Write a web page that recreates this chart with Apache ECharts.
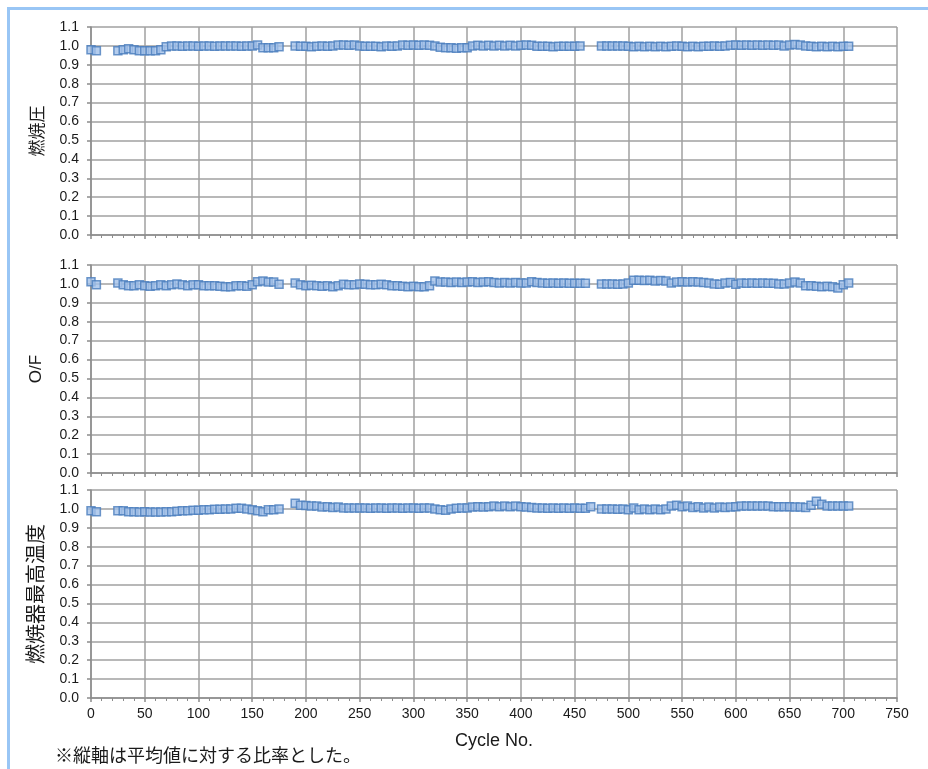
<!DOCTYPE html>
<html>
<head>
<meta charset="utf-8">
<script src="https://cdn.jsdelivr.net/npm/echarts@6/dist/echarts.min.js"></script>
<style>
  html, body { margin: 0; padding: 0; background: #fff; }
  #chart { width: 928px; height: 769px; }
</style>
</head>
<body>
<div id="chart"></div>
<script>
const cycles = [
  0, 5, 10, 15, 20, 25, 30, 35, 40, 45, 50, 55, 60, 65, 70, 75, 80, 85, 90, 95,
  100, 105, 110, 115, 120, 125, 130, 135, 140, 145, 150, 155, 160, 165, 170, 175, 180, 185, 190, 195,
  200, 205, 210, 215, 220, 225, 230, 235, 240, 245, 250, 255, 260, 265, 270, 275, 280, 285, 290, 295,
  300, 305, 310, 315, 320, 325, 330, 335, 340, 345, 350, 355, 360, 365, 370, 375, 380, 385, 390, 395,
  400, 405, 410, 415, 420, 425, 430, 435, 440, 445, 450, 455, 460, 465, 470, 475, 480, 485, 490, 495,
  500, 505, 510, 515, 520, 525, 530, 535, 540, 545, 550, 555, 560, 565, 570, 575, 580, 585, 590, 595,
  600, 605, 610, 615, 620, 625, 630, 635, 640, 645, 650, 655, 660, 665, 670, 675, 680, 685, 690, 695,
  700, 705
];

// 燃焼圧
const pressure = [
  0.980, 0.975, null, null, null, 0.975, 0.980, 0.985, 0.980, 0.975,
  0.975, 0.975, 0.975, 0.980, 0.995, 1.000, 1.000, 0.998, 1.000, 1.000,
  0.998, 1.000, 1.000, 0.998, 1.000, 1.000, 1.000, 1.000, 0.998, 1.000,
  1.000, 1.005, 0.990, 0.990, 0.990, 0.995, null, null, 1.000, 0.998,
  0.998, 0.995, 0.998, 1.000, 0.998, 1.000, 1.005, 1.005, 1.003, 1.005,
  1.000, 0.998, 0.998, 0.998, 0.995, 1.000, 0.998, 1.000, 1.005, 1.003,
  1.005, 1.003, 1.005, 1.003, 1.000, 0.993, 0.990, 0.990, 0.988, 0.990,
  0.990, 1.000, 1.003, 1.000, 1.003, 1.000, 1.003, 1.000, 1.003, 1.000,
  1.003, 1.005, 1.003, 0.998, 0.998, 0.998, 0.995, 0.998, 0.998, 0.998,
  0.998, 1.000, null, null, null, 1.000, 1.000, 1.000, 1.000, 1.000,
  0.998, 0.995, 0.998, 0.995, 0.998, 0.995, 0.998, 0.995, 0.998, 1.000,
  0.998, 0.995, 0.998, 0.995, 0.998, 0.998, 1.000, 0.998, 1.000, 1.003,
  1.005, 1.003, 1.005, 1.003, 1.005, 1.003, 1.005, 1.003, 1.005, 1.000,
  1.005, 1.008, 1.005, 1.000, 0.998, 0.995, 0.998, 0.995, 0.998, 0.995,
  0.998, 0.998
];

// O/F
const ofRatio = [
  1.012, 0.995, null, null, null, 1.005, 0.995, 0.990, 0.990, 0.995,
  0.990, 0.988, 0.990, 0.995, 0.990, 0.995, 1.000, 0.995, 0.990, 0.995,
  0.995, 0.990, 0.990, 0.990, 0.988, 0.985, 0.985, 0.990, 0.990, 0.988,
  0.995, 1.012, 1.015, 1.010, 1.010, 0.998, null, null, 1.005, 0.995,
  0.990, 0.993, 0.990, 0.988, 0.990, 0.985, 0.990, 0.998, 0.995, 0.995,
  1.000, 0.998, 0.995, 0.995, 0.998, 0.995, 0.990, 0.990, 0.988, 0.985,
  0.988, 0.985, 0.985, 0.990, 1.015, 1.010, 1.010, 1.008, 1.010, 1.008,
  1.010, 1.012, 1.008, 1.010, 1.012, 1.008, 1.005, 1.008, 1.005, 1.008,
  1.005, 1.005, 1.012, 1.008, 1.005, 1.003, 1.005, 1.003, 1.005, 1.003,
  1.003, 1.003, 1.003, null, null, 1.000, 1.000, 1.000, 0.998, 1.000,
  1.005, 1.020, 1.020, 1.018, 1.020, 1.015, 1.018, 1.015, 1.005, 1.010,
  1.012, 1.010, 1.012, 1.010, 1.008, 1.005, 1.000, 0.998, 1.005, 1.008,
  0.998, 1.005, 1.003, 1.005, 1.003, 1.005, 1.003, 1.003, 1.000, 1.000,
  1.005, 1.010, 1.005, 0.990, 0.990, 0.988, 0.985, 0.988, 0.985, 0.978,
  0.995, 1.005
];

// 燃焼器最高温度
const maxTemp = [
  0.990, 0.985, null, null, null, 0.990, 0.990, 0.985, 0.985, 0.983,
  0.985, 0.983, 0.983, 0.983, 0.985, 0.985, 0.988, 0.990, 0.990, 0.993,
  0.993, 0.995, 0.995, 0.998, 0.998, 1.000, 1.000, 1.003, 1.003, 1.000,
  0.995, 0.990, 0.985, 0.995, 0.995, 1.000, null, null, 1.030, 1.020,
  1.018, 1.015, 1.015, 1.010, 1.012, 1.008, 1.010, 1.005, 1.005, 1.005,
  1.005, 1.005, 1.003, 1.005, 1.005, 1.003, 1.005, 1.005, 1.003, 1.005,
  1.005, 1.003, 1.005, 1.005, 1.000, 0.995, 0.993, 1.000, 1.003, 1.005,
  1.005, 1.010, 1.012, 1.010, 1.012, 1.015, 1.012, 1.015, 1.012, 1.015,
  1.012, 1.010, 1.008, 1.005, 1.005, 1.003, 1.005, 1.003, 1.005, 1.003,
  1.005, 1.003, 1.003, 1.012, null, 1.000, 1.000, 1.000, 0.998, 1.000,
  0.995, 1.005, 0.995, 1.000, 0.995, 1.000, 0.995, 1.000, 1.015, 1.020,
  1.012, 1.015, 1.008, 1.012, 1.005, 1.010, 1.005, 1.010, 1.008, 1.010,
  1.012, 1.015, 1.015, 1.015, 1.015, 1.015, 1.015, 1.012, 1.012, 1.012,
  1.012, 1.010, 1.010, 1.008, 1.020, 1.040, 1.025, 1.015, 1.015, 1.015,
  1.015, 1.015
];

const panelNames = ['燃焼圧', 'O/F', '燃焼器最高温度'];
const panelSeries = [pressure, ofRatio, maxTemp];
const xTitle = 'Cycle No.';
const footnote = '※縦軸は平均値に対する比率とした。';

const gridTops = [27, 265, 490];
const gridColor = '#a0a0a0';
const labelFont = 'Liberation Sans, Arial, sans-serif';
const cjkFont = 'Noto Sans CJK JP, sans-serif';

function toPoints(values) {
    const pts = [];
    values.forEach((v, i) => {
        if (v !== null) pts.push([cycles[i], v]);
    });
    return pts;
}

var dom = document.getElementById('chart');
var myChart = echarts.init(dom, null, { renderer: 'canvas' });

const grids = gridTops.map(t => ({ left: 91, top: t, width: 806, height: 208 }));

const xAxes = gridTops.map((t, i) => ({
    gridIndex: i,
    type: 'value',
    min: 0,
    max: 750,
    interval: 50,
    name: i === 2 ? xTitle : '',
    nameLocation: 'middle',
    nameGap: 34,
    nameTextStyle: { fontFamily: labelFont, fontSize: 18, color: '#1a1a1a' },
    axisLine: { show: true, lineStyle: { color: '#8c8c8c', width: 1.5 } },
    axisTick: { show: true, length: 4, lineStyle: { color: '#8c8c8c', width: 1.5 } },
    minorTick: { show: true, splitNumber: 5, length: 3, lineStyle: { color: '#8c8c8c', width: 1 } },
    axisLabel: {
        show: i === 2,
        margin: 9,
        fontFamily: labelFont,
        fontSize: 14,
        color: '#1a1a1a'
    },
    splitLine: { show: true, lineStyle: { color: gridColor, width: 1.5 } }
}));

const yAxes = gridTops.map((t, i) => ({
    gridIndex: i,
    type: 'value',
    min: 0,
    max: 1.1,
    interval: 0.1,
    name: panelNames[i],
    nameLocation: 'middle',
    nameRotate: 90,
    nameGap: 46,
    nameTextStyle: {
        fontFamily: i === 1 ? labelFont : cjkFont,
        fontSize: i === 2 ? 20 : 17,
        color: '#1a1a1a'
    },
    axisLine: { show: true, lineStyle: { color: '#8c8c8c', width: 1.5 } },
    axisTick: { show: true, length: 4, lineStyle: { color: '#8c8c8c', width: 1.5 } },
    axisLabel: {
        margin: 12,
        fontFamily: labelFont,
        fontSize: 14,
        color: '#1a1a1a',
        formatter: v => v.toFixed(1)
    },
    splitLine: { show: true, lineStyle: { color: gridColor, width: 1.5 } }
}));

const series = panelSeries.map((vals, i) => ({
    type: 'scatter',
    xAxisIndex: i,
    yAxisIndex: i,
    symbol: 'rect',
    symbolSize: [8, 8],
    itemStyle: {
        color: '#a3c1e8',
        borderColor: '#4a7dbd',
        borderWidth: 1.5
    },
    data: toPoints(vals)
}));

const option = {
    animation: false,
    backgroundColor: '#ffffff',
    grid: grids,
    xAxis: xAxes,
    yAxis: yAxes,
    series: series,
    graphic: [
        { type: 'rect', shape: { x: 7, y: 7, width: 921, height: 3 }, style: { fill: '#99c6f5' } },
        { type: 'rect', shape: { x: 7, y: 7, width: 3, height: 762 }, style: { fill: '#99c6f5' } },
        {
            type: 'text',
            left: 55,
            top: 746,
            style: {
                text: footnote,
                fontFamily: cjkFont,
                fontSize: 18,
                fill: '#1a1a1a'
            }
        }
    ]
};

myChart.setOption(option);
window.addEventListener('resize', myChart.resize);
</script>
</body>
</html>
